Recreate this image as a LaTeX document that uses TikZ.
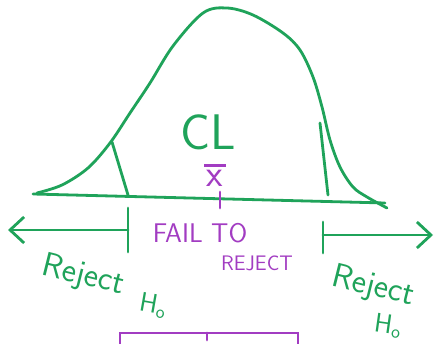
\RequirePackage{fix-cm}
\documentclass[tikz,border=0pt]{standalone}
\usepackage{tikz}
\usetikzlibrary{arrows.meta,positioning,calc}
\definecolor{cgreen}{HTML}{1FA35A}
\definecolor{cpurple}{HTML}{A23CC2}

\begin{document}
\begin{tikzpicture}[
    x=1pt, y=-1pt,
    pen/.style={draw=cgreen, line width=2.8pt, line cap=round, line join=round},
    ppen/.style={draw=cpurple, line width=2.8pt, line cap=round},
    arr/.style={pen, -{Straight Barb[length=14pt,width=26pt,line width=2.8pt]}},
    glbl/.style={text=cgreen, font=\sffamily, inner sep=0pt},
    plbl/.style={text=cpurple, font=\sffamily, inner sep=0pt}
]
\useasboundingbox[fill=white] (0,0) rectangle (436,344);

% bell curve and axis
\draw[pen] plot[smooth, tension=0.55] coordinates {(37,193) (62,185) (88,168) (110,143)
    (130,113) (150,83) (173,46) (203,13) (227,8) (253,15) (283,33) (300,50) (313,77)
    (322,107) (330,140) (340,167) (353,187) (367,197) (387,208)};
\draw[pen] (33,194) -- (385,203);
\draw[pen] (112,142) -- (128,195);
\draw[pen] (320,123) -- (328,195);

\node[glbl, font=\sffamily\fontsize{50}{50}\selectfont] (cl) at (208,132) {CL};
\node[plbl, font=\sffamily\fontsize{38}{38}\selectfont] (xbar) at (215,175)
    {\shortstack{\rule{22pt}{2.8pt}\\[0pt]x}};
\coordinate (mtop) at (220,192);
\coordinate (mbot) at (220,208);
\draw[ppen] (mtop) -- (mbot);

% regions
\coordinate (lbtop) at (128,208);
\coordinate (lbbot) at (128,252);
\coordinate (lmid) at (128,230);
\coordinate (lend) at (8,230);
\draw[pen] (lbtop) -- (lbbot);
\draw[arr] (lmid) -- (lend);

\coordinate (rbtop) at (323,222);
\coordinate (rbbot) at (323,253);
\coordinate (rmid) at (323,235);
\coordinate (rend) at (433,235);
\draw[pen] (rbtop) -- (rbbot);
\draw[arr] (rmid) -- (rend);

\node[plbl, font=\sffamily\fontsize{27}{27}\selectfont] (fail) at (200,233) {FAIL TO};
\node[plbl, font=\sffamily\fontsize{21}{21}\selectfont] (rej) at (257,263) {REJECT};

\node[glbl, font=\sffamily\fontsize{34}{34}\selectfont, rotate=-14] (lrej) at (83,276) {Reject};
\node[glbl, font=\sffamily\fontsize{27}{27}\selectfont, rotate=-10] (lho) at (153,306) {H\textsubscript{o}};
\node[glbl, font=\sffamily\fontsize{34}{34}\selectfont, rotate=-14] (rrej) at (373,287) {Reject};
\node[glbl, font=\sffamily\fontsize{27}{27}\selectfont, rotate=-8] (rho) at (388,326) {H\textsubscript{o}};

% box below
\draw[ppen] (120,350) -- (120,333) -- (298,333) -- (298,350);
\draw[ppen] (207,333) -- (207,340);
\end{tikzpicture}
\end{document}
